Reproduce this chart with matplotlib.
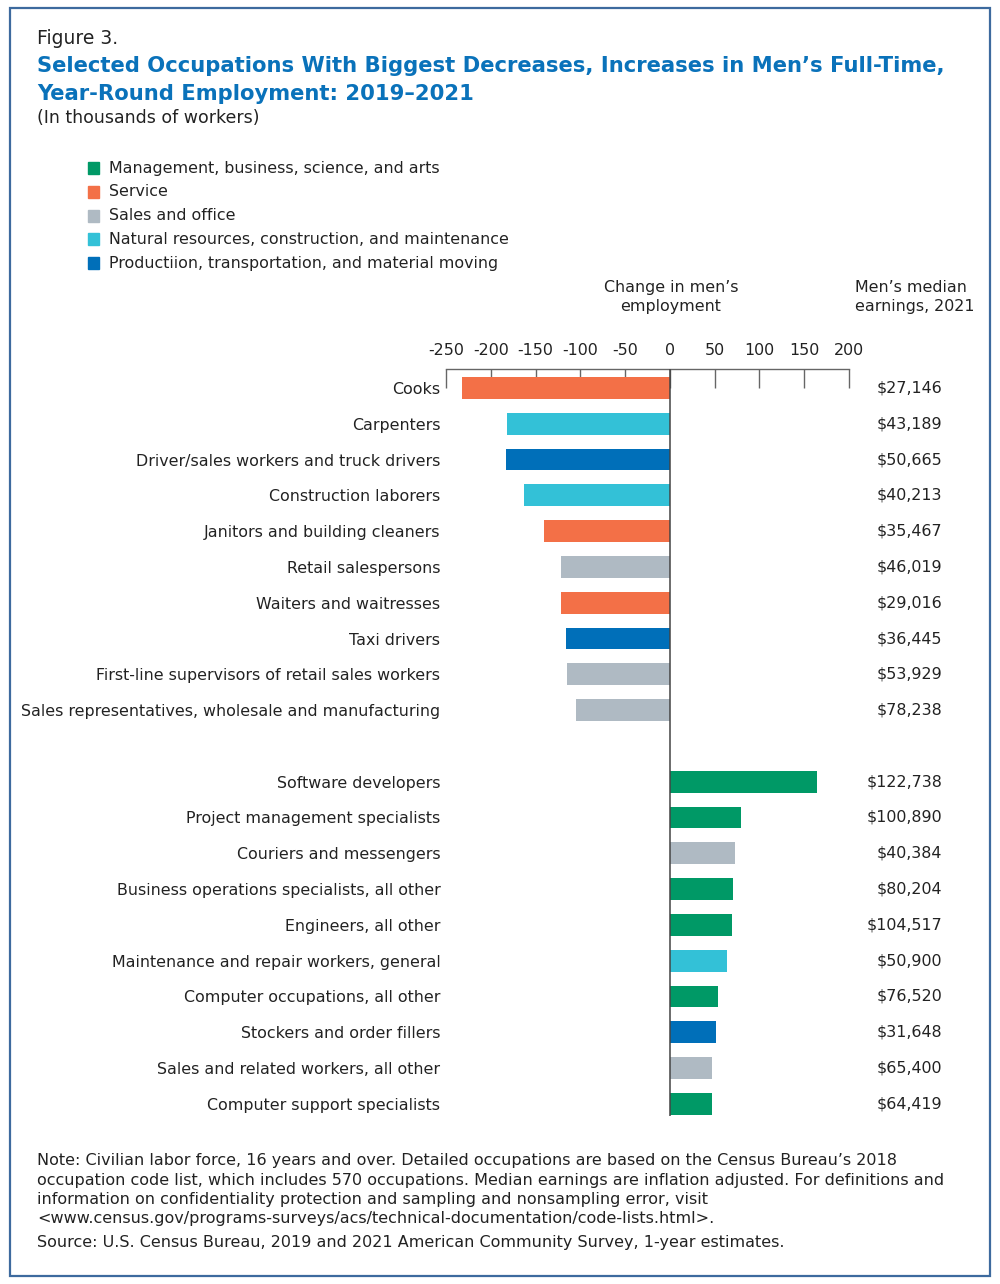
import matplotlib
matplotlib.use("Agg")
import matplotlib.pyplot as plt
from matplotlib.patches import Rectangle

plt.rcParams["font.family"] = ["DejaVu Sans"]

# data, top to bottom (empty slot between the two groups)
occupations = [
    "Cooks",
    "Carpenters",
    "Driver/sales workers and truck drivers",
    "Construction laborers",
    "Janitors and building cleaners",
    "Retail salespersons",
    "Waiters and waitresses",
    "Taxi drivers",
    "First-line supervisors of retail sales workers",
    "Sales representatives, wholesale and manufacturing",
    "Software developers",
    "Project management specialists",
    "Couriers and messengers",
    "Business operations specialists, all other",
    "Engineers, all other",
    "Maintenance and repair workers, general",
    "Computer occupations, all other",
    "Stockers and order fillers",
    "Sales and related workers, all other",
    "Computer support specialists",
]
change = [-231.7, -182.1, -182.8, -163.4, -141.0, -122.0, -121.6, -115.7, -115.3, -104.6,
          163.8, 79.3, 72.6, 70.4, 68.9, 64.0, 54.0, 51.4, 47.3, 46.5]
earnings = ["$27,146", "$43,189", "$50,665", "$40,213", "$35,467", "$46,019", "$29,016",
            "$36,445", "$53,929", "$78,238", "$122,738", "$100,890", "$40,384", "$80,204",
            "$104,517", "$50,900", "$76,520", "$31,648", "$65,400", "$64,419"]
group = ["svc", "nat", "prod", "nat", "svc", "sales", "svc", "prod", "sales", "sales",
         "mgmt", "mgmt", "sales", "mgmt", "mgmt", "nat", "mgmt", "prod", "sales", "mgmt"]

legend_keys = ["mgmt", "svc", "sales", "nat", "prod"]
legend_labels = [
    "Management, business, science, and arts",
    "Service",
    "Sales and office",
    "Natural resources, construction, and maintenance",
    "Productiion, transportation, and material moving",
]
colors = {"mgmt": "#009966", "svc": "#f37047", "sales": "#afbac3",
          "nat": "#33c1d7", "prod": "#006fb9"}

xticks = [-250, -200, -150, -100, -50, 0, 50, 100, 150, 200]

W, H = 1000, 1284
FS = 11.45
fig = plt.figure(figsize=(W / 100, H / 100), dpi=100)


def ftext(x, y, s, **kw):
    # place text in pixel coordinates measured from top-left
    fig.text(x / W, 1 - y / H, s, **kw)


# border
fig.patches.append(Rectangle((10 / W, 1 - 1276 / H), 980 / W, 1268 / H,
                             transform=fig.transFigure, fill=False,
                             edgecolor="#3d6a9e", linewidth=1.6))

ftext(37, 38, "Figure 3.", fontsize=13.5, va="center", color="#222222")
ftext(37, 66, "Selected Occupations With Biggest Decreases, Increases in Men\u2019s Full-Time,",
      fontsize=15.2, fontweight="bold", color="#0a72ba", va="center")
ftext(37, 94, "Year-Round Employment: 2019\u20132021",
      fontsize=15.2, fontweight="bold", color="#0a72ba", va="center")
ftext(37, 118, "(In thousands of workers)", fontsize=12.5, va="center", color="#222222")

# legend
for i, (k, lab) in enumerate(zip(legend_keys, legend_labels)):
    y = 168 + i * 23.8
    fig.patches.append(Rectangle((88 / W, 1 - (y + 6) / H), 11 / W, 12 / H,
                                 transform=fig.transFigure, color=colors[k]))
    ftext(109, y, lab, fontsize=FS, va="center", color="#222222")

ftext(671, 287, "Change in men\u2019s", fontsize=FS, ha="center", va="center", color="#222222")
ftext(671, 306, "employment", fontsize=FS, ha="center", va="center", color="#222222")
ftext(855, 287, "Men\u2019s median", fontsize=FS, va="center", color="#222222")
ftext(855, 306, "earnings, 2021", fontsize=FS, va="center", color="#222222")

# main axes
ax = fig.add_axes([446 / W, 1 - 1116 / H, 403 / W, (1116 - 369) / H])
pos = [i if i < 10 else i + 1 for i in range(len(occupations))]
bar_colors = [colors[g] for g in group]
ax.barh(pos, change, height=0.61, color=bar_colors, zorder=2)
ax.axvline(0, color="#444444", linewidth=1.1, zorder=3)

ax.set_xlim(-250, 200)
ax.set_ylim(20.34, -0.53)
ax.xaxis.tick_top()
ax.set_xticks(xticks)
ax.set_xticklabels([str(t) for t in xticks], fontsize=FS, color="#222222")
ax.tick_params(axis="x", direction="in", length=14, width=1, color="#666666", pad=8)
ax.set_yticks(pos)
ax.set_yticklabels(occupations, fontsize=FS, color="#222222")
ax.tick_params(axis="y", length=0, pad=4)
for side in ["left", "right", "bottom"]:
    ax.spines[side].set_visible(False)
ax.spines["top"].set_color("#666666")
ax.spines["top"].set_linewidth(1)

for p, e in zip(pos, earnings):
    ax.text(1.231, p, e, transform=ax.get_yaxis_transform(), ha="right", va="center",
            fontsize=FS, color="#222222")

notes = [
    "Note: Civilian labor force, 16 years and over. Detailed occupations are based on the Census Bureau\u2019s 2018",
    "occupation code list, which includes 570 occupations. Median earnings are inflation adjusted. For definitions and",
    "information on confidentiality protection and sampling and nonsampling error, visit",
    "<www.census.gov/programs-surveys/acs/technical-documentation/code-lists.html>.",
]
for i, line in enumerate(notes):
    ftext(37, 1161 + i * 19.2, line, fontsize=11.5, va="center", color="#222222")
ftext(37, 1243, "Source: U.S. Census Bureau, 2019 and 2021 American Community Survey, 1-year estimates.",
      fontsize=11.5, va="center", color="#222222")

fig.savefig("out.png", dpi=100)
